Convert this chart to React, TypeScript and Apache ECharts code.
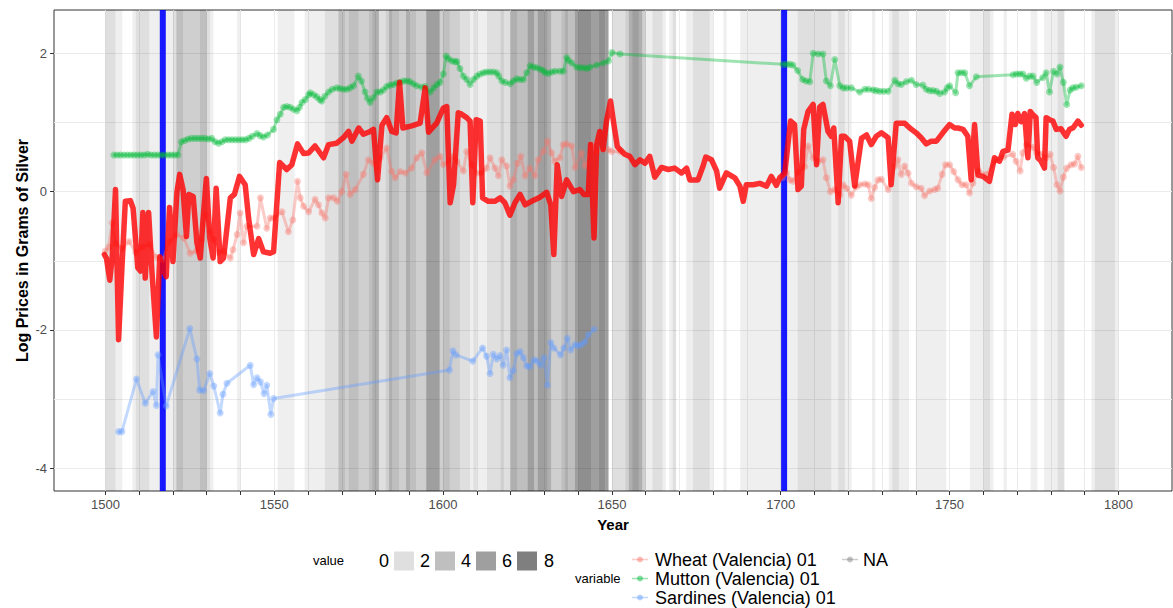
import React, { useEffect, useRef } from 'react';
import * as echarts from 'echarts';

// [startYear, endYear, value] shading bands
const bands: [number, number, number][] = [
  [1500, 1503, 2], [1503, 1505, 1], [1508, 1509, 1], [1509, 1513, 2], [1513, 1518, 1], [1518, 1520, 1],
  [1520, 1521, 2], [1521, 1523, 4], [1523, 1528, 3], [1528, 1530, 4], [1530, 1531, 2], [1531, 1532, 1],
  [1539, 1540, 1], [1551, 1556, 1], [1559, 1565, 1], [1565, 1569, 2], [1569, 1571, 4], [1571, 1572, 3],
  [1572, 1575, 4], [1575, 1578, 3], [1578, 1579, 4], [1579, 1581, 5], [1581, 1583, 2], [1583, 1584, 3],
  [1584, 1585, 5], [1585, 1587, 4], [1587, 1589, 3], [1589, 1590, 5], [1590, 1592, 4], [1592, 1595, 3],
  [1595, 1599, 6], [1599, 1600, 3], [1600, 1602, 4], [1602, 1605, 3], [1605, 1608, 2], [1608, 1609, 1],
  [1609, 1610, 2], [1610, 1613, 1], [1613, 1617, 2], [1617, 1618, 3], [1618, 1620, 2], [1620, 1622, 5],
  [1622, 1625, 4], [1625, 1627, 6], [1627, 1628, 4], [1628, 1631, 6], [1631, 1632, 5], [1632, 1635, 3],
  [1635, 1636, 4], [1636, 1637, 5], [1637, 1639, 4], [1639, 1640, 6], [1640, 1644, 7], [1644, 1646, 6],
  [1646, 1648, 7], [1648, 1649, 6], [1650, 1654, 2], [1654, 1655, 3], [1655, 1656, 5], [1656, 1658, 6],
  [1658, 1659, 5], [1659, 1660, 3], [1660, 1662, 1], [1662, 1665, 2], [1665, 1666, 1], [1667, 1668, 1],
  [1668, 1669, 2], [1672, 1674, 1], [1674, 1679, 2], [1679, 1680, 1], [1683, 1684, 1], [1688, 1705, 1],
  [1705, 1715, 2], [1715, 1717, 1], [1717, 1719, 2], [1719, 1721, 1], [1727, 1728, 1], [1732, 1733, 1],
  [1733, 1735, 2], [1735, 1738, 1], [1740, 1749, 1], [1756, 1760, 1], [1760, 1762, 2], [1762, 1763, 1],
  [1766, 1767, 1], [1774, 1776, 1], [1778, 1782, 1], [1782, 1784, 2], [1792, 1793, 1], [1793, 1799, 2],
  [1799, 1800, 1],
];

const eventYears: number[] = [1517, 1701];

const wheatEarly: [number, number][] = [
  [1500, -0.86], [1501, -0.8], [1502, -0.45], [1503, -0.75], [1505, -0.82], [1507, -0.72], [1509, -0.88],
  [1511, -0.8], [1513, -0.76], [1515, -0.95], [1517, -0.98], [1519, -0.72], [1521, -0.62], [1523.2, -0.67],
  [1525.1, -0.89], [1527, -0.86], [1528.5, -0.7], [1529.6, -0.33], [1531, -0.58], [1532, -0.69],
  [1533.5, -0.88], [1535, -0.86], [1537, -0.96], [1537.8, -0.84], [1539, -0.62], [1539.9, -0.31],
  [1540.9, -0.74], [1541.9, -0.5], [1544.9, -0.5], [1545.9, -0.09], [1547.8, -0.53], [1548.8, -0.38],
  [1549.8, -0.38], [1552.3, -0.29], [1554.2, -0.58], [1555.5, -0.41], [1556.9, 0.15], [1557.7, -0.09],
  [1558.7, -0.21], [1560.2, -0.29], [1562.1, -0.11], [1563.1, -0.19], [1564.1, -0.31], [1565.1, -0.38],
  [1566.1, -0.09], [1567.6, -0.09], [1568.7, -0.14], [1570, 0.0], [1571.3, 0.25], [1572.5, -0.04],
  [1574, 0.03], [1576.4, 0.25], [1577.9, 0.46], [1579.4, 0.41], [1580.4, 0.34], [1581.4, 0.49],
  [1583.3, 0.63], [1584.8, 0.29], [1585.8, 0.2], [1587.3, 0.29], [1588.8, 0.27], [1590.7, 0.34],
  [1592.2, 0.49], [1593.7, 0.56], [1595.2, 0.27], [1597.6, 0.46], [1599.1, 0.51], [1600.1, 0.39],
  [1601.6, 0.44], [1603.1, 0.51], [1604.1, 0.44], [1606, 0.3], [1607, 0.58], [1608.5, 0.39], [1610, 0.27],
  [1611.4, 0.27], [1612.9, 0.34], [1613.9, 0.49], [1615.4, 0.34], [1616.4, 0.23], [1617.4, 0.46],
  [1618.8, 0.37], [1619.8, 0.08], [1620.8, 0.17], [1622, 0.41], [1623, 0.51], [1624.3, 0.23],
  [1625.7, 0.34], [1627.2, 0.23], [1628.2, 0.46], [1629.7, 0.58], [1630.9, 0.73], [1632.1, 0.56],
  [1633.1, 0.44], [1634.6, 0.49], [1635.6, 0.68], [1636.6, 0.69], [1638.1, 0.66], [1639.1, 0.35],
  [1641, 0.56], [1642, 0.37], [1644, 0.68], [1645.5, 0.58], [1648.9, 0.61], [1649.9, 0.58], [1652.4, 0.58],
];

const wheatLate: [number, number][] = [
  [1700.5, 0.2], [1701.7, 0.27], [1702.7, 0.17], [1703.6, 0.15], [1705, 0.28], [1707.1, 0.36],
  [1708.1, 0.66], [1709.6, 0.49], [1711.1, 0.44], [1712.5, 0.46], [1713.5, 0.2], [1714.7, 0.0], [1716, 0.03],
  [1717.5, -0.05], [1718.5, 0.1], [1719.5, 0.05], [1720.9, -0.05], [1722.4, 0.07], [1723.4, 0.1],
  [1724.9, 0.11], [1725.9, 0.1], [1726.8, -0.1], [1727.8, 0.06], [1728.8, 0.17], [1729.8, 0.18],
  [1731.8, 0.03], [1733.7, 0.37], [1734.7, 0.46], [1735.7, 0.25], [1736.7, 0.37], [1737.7, 0.27],
  [1738.7, 0.12], [1740.1, 0.07], [1741.6, 0.05], [1742.6, -0.06], [1744.1, 0.01], [1745.6, 0.03],
  [1746.5, 0.05], [1747.8, 0.25], [1748.8, 0.39], [1750, 0.39], [1751.2, 0.29], [1752.5, 0.17],
  [1753.7, 0.1], [1754.9, 0.1], [1755.9, -0.02], [1756.9, 0.12], [1758.5, 0.3], [1761, 0.25], [1763.5, 0.45],
  [1766, 0.5], [1768.7, 0.54], [1769.7, 0.44], [1770.9, 0.3], [1771.7, 0.56], [1772.7, 0.68], [1774.7, 0.64],
  [1775.8, 0.56], [1777.1, 0.54], [1778.6, 0.49], [1779.8, 0.54], [1780.8, 0.35], [1781.8, 0.1],
  [1782.7, 0.01], [1783.7, 0.21], [1784.7, 0.34], [1786, 0.39], [1787, 0.4], [1788, 0.51], [1789, 0.35],
];

const mutton: [number, number][] = [
  [1502.5, 0.53], [1503.5, 0.53], [1504.5, 0.53], [1505.5, 0.53], [1506.5, 0.53], [1507.5, 0.53],
  [1508.5, 0.53], [1509.5, 0.53], [1510.5, 0.53], [1511.5, 0.53], [1512.5, 0.54], [1513.5, 0.53],
  [1514.5, 0.53], [1515.5, 0.53], [1516.5, 0.53], [1517.5, 0.53], [1518.5, 0.53], [1519.5, 0.53],
  [1520.5, 0.53], [1521.5, 0.53], [1522.5, 0.72], [1523.5, 0.74], [1524.5, 0.76], [1525.5, 0.77],
  [1526.5, 0.77], [1527.5, 0.77], [1528.5, 0.77], [1529.5, 0.77], [1530.5, 0.76], [1531.5, 0.77],
  [1532.5, 0.72], [1533.5, 0.7], [1534.5, 0.72], [1535.5, 0.75], [1536.5, 0.75], [1537.5, 0.75],
  [1538.5, 0.75], [1539.5, 0.75], [1540.5, 0.75], [1541.5, 0.75], [1542.5, 0.77], [1543.5, 0.8],
  [1544.9, 0.84], [1545.8, 0.81], [1546.8, 0.79], [1548, 0.82], [1549.8, 0.9], [1550.8, 1.04],
  [1551.8, 1.12], [1552.8, 1.22], [1553.7, 1.23], [1554.7, 1.22], [1555.7, 1.19], [1556.7, 1.17],
  [1557.5, 1.22], [1558.2, 1.29], [1559.2, 1.33], [1560.2, 1.4], [1560.7, 1.43], [1561.7, 1.4],
  [1562.6, 1.37], [1563.5, 1.33], [1564.1, 1.31], [1565, 1.38], [1566.1, 1.44], [1567.2, 1.48],
  [1568.5, 1.5], [1569.5, 1.49], [1570.5, 1.48], [1571.5, 1.48], [1572.5, 1.5], [1573.5, 1.53],
  [1574.9, 1.67], [1575.8, 1.6], [1576.9, 1.44], [1577.6, 1.35], [1578.4, 1.29], [1579.4, 1.36],
  [1580.4, 1.44], [1581.4, 1.44], [1582.3, 1.47], [1583.3, 1.52], [1584.3, 1.54], [1585.3, 1.55],
  [1586.3, 1.57], [1587.3, 1.58], [1588.3, 1.6], [1589.3, 1.6], [1590.2, 1.59], [1591.2, 1.56],
  [1592.2, 1.53], [1593.7, 1.51], [1594.7, 1.52], [1596.2, 1.44], [1597.2, 1.5], [1598.2, 1.55],
  [1599.1, 1.58], [1600.1, 1.7], [1600.9, 1.96], [1601.6, 1.92], [1602.6, 1.89], [1603.5, 1.88],
  [1604.1, 1.88], [1605, 1.78], [1606, 1.67], [1607, 1.62], [1608, 1.55], [1609, 1.62], [1610, 1.67],
  [1611, 1.7], [1612, 1.72], [1612.9, 1.73], [1613.9, 1.73], [1614.9, 1.73], [1615.9, 1.72], [1616.5, 1.67],
  [1617.4, 1.6], [1618.4, 1.58], [1619.9, 1.56], [1620.8, 1.6], [1621.8, 1.63], [1622.8, 1.62],
  [1623.8, 1.62], [1624.8, 1.72], [1625.8, 1.82], [1626.8, 1.8], [1627.8, 1.79], [1628.8, 1.77],
  [1629.7, 1.75], [1630.2, 1.72], [1631.2, 1.71], [1632.2, 1.73], [1633.2, 1.74], [1634.6, 1.74],
  [1635.6, 1.74], [1636.6, 1.94], [1637.1, 1.9], [1638.1, 1.86], [1639.6, 1.8], [1640.6, 1.79],
  [1641.6, 1.79], [1642.6, 1.78], [1643.5, 1.8], [1645.5, 1.83], [1647.5, 1.86], [1649, 1.89], [1650, 2.01],
  [1652.4, 1.99], [1700.7, 1.84], [1701.7, 1.84], [1702.7, 1.84], [1703.6, 1.83], [1705, 1.75],
  [1706.5, 1.62], [1707.5, 1.6], [1708.6, 1.59], [1709.6, 2.0], [1711.1, 1.99], [1712.5, 1.99],
  [1713.5, 1.6], [1714.7, 1.53], [1716, 1.91], [1717.5, 1.53], [1718.5, 1.5], [1719.5, 1.5], [1720.9, 1.5],
  [1723.4, 1.44], [1724.9, 1.48], [1726, 1.48], [1727.4, 1.47], [1728.3, 1.46], [1729.3, 1.45],
  [1730.5, 1.45], [1731.8, 1.45], [1733.8, 1.61], [1734.7, 1.56], [1735.7, 1.55], [1737.2, 1.59],
  [1738.7, 1.61], [1740.1, 1.55], [1742.1, 1.54], [1743.1, 1.48], [1744.1, 1.46], [1745.1, 1.46],
  [1746.1, 1.45], [1747.1, 1.42], [1748.5, 1.44], [1749.3, 1.5], [1750, 1.53], [1751.8, 1.43],
  [1752.5, 1.72], [1753.5, 1.72], [1754.5, 1.72], [1755.9, 1.53], [1757.9, 1.66], [1768.8, 1.69],
  [1769.8, 1.7], [1770.8, 1.7], [1771.7, 1.7], [1772.7, 1.64], [1773.7, 1.67], [1774.7, 1.67],
  [1775.8, 1.58], [1777.6, 1.65], [1778.6, 1.72], [1779.6, 1.44], [1780.8, 1.74], [1781.8, 1.7],
  [1782.7, 1.8], [1783.7, 1.58], [1784.7, 1.26], [1785.7, 1.47], [1786.5, 1.5], [1787.5, 1.51], [1789, 1.53],
];

const sardines: [number, number][] = [
  [1503.9, -3.47], [1504.9, -3.47], [1509.2, -2.71], [1511.8, -3.06], [1514.1, -2.89], [1515.1, -3.09],
  [1515.6, -2.36], [1518, -3.1], [1525, -1.98], [1527.1, -2.42], [1527.9, -2.87], [1529.1, -2.88],
  [1530.9, -2.63], [1532.1, -2.81], [1534, -3.2], [1534.8, -2.93], [1536, -2.77], [1542.9, -2.51],
  [1543.9, -2.79], [1544.9, -2.69], [1545.9, -2.75], [1547, -2.92], [1547.8, -2.8], [1549, -3.22],
  [1549.8, -2.99], [1601.9, -2.58], [1602.9, -2.3], [1603.8, -2.36], [1608.8, -2.45], [1611.7, -2.26],
  [1612.9, -2.38], [1613.9, -2.63], [1614.9, -2.35], [1615.9, -2.42], [1616.9, -2.37], [1617.8, -2.51],
  [1618.8, -2.29], [1619.8, -2.69], [1620.8, -2.59], [1621.8, -2.34], [1622.8, -2.31], [1623.8, -2.4],
  [1624.8, -2.52], [1625.7, -2.53], [1626.9, -2.43], [1627.9, -2.45], [1628.9, -2.51], [1629.9, -2.4],
  [1630.9, -2.8], [1631.9, -2.18], [1632.8, -2.26], [1634.8, -2.36], [1635.8, -2.26], [1636.8, -2.12],
  [1637.8, -2.29], [1639.1, -2.21], [1640, -2.23], [1641, -2.21], [1642, -2.17], [1643, -2.07], [1644.7, -1.99],
];

const boldRed: [number, number][] = [
  [1499.7, -0.91], [1500.3, -0.96], [1501.3, -1.28], [1502, -0.96], [1503, 0.03], [1503.9, -2.14],
  [1504.9, -1.1], [1505.9, -0.14], [1507.4, -0.13], [1508.2, -0.24], [1509.6, -1.1], [1510.4, -1.15],
  [1511.1, -0.3], [1511.8, -1.25], [1512.8, -0.3], [1513.8, -1.17], [1515.1, -2.1], [1516.1, -0.94],
  [1517.3, -1.15], [1518, -1.23], [1519, -0.23], [1520, -1.01], [1521.2, 0.0], [1522, 0.25], [1523, 0.03],
  [1524, -0.65], [1524.7, -0.04], [1526, -0.07], [1527.1, -0.74], [1528.1, -0.96], [1529.1, -0.29],
  [1529.9, 0.19], [1530.9, -0.67], [1531.9, -0.96], [1532.8, 0.05], [1534, -1.01], [1535, -0.96],
  [1537, -0.09], [1538.2, -0.04], [1539.7, 0.22], [1541.4, 0.1], [1542.4, -0.38], [1543.9, -0.91],
  [1545.4, -0.68], [1546.8, -0.87], [1548.8, -0.89], [1549.8, -0.87], [1551.6, 0.42], [1553.7, 0.32],
  [1555.2, 0.39], [1556.9, 0.69], [1558.7, 0.55], [1560.2, 0.56], [1562.1, 0.66], [1564.6, 0.49],
  [1566.1, 0.68], [1568.5, 0.7], [1570.5, 0.78], [1572, 0.87], [1573, 0.73], [1575, 0.92], [1576.4, 0.83],
  [1578.4, 0.87], [1579.4, 0.9], [1580.6, 0.17], [1581.9, 0.96], [1583.3, 1.07], [1584.8, 0.87],
  [1586.1, 0.85], [1587.1, 1.58], [1588.1, 0.92], [1590.7, 0.95], [1593.2, 0.99], [1594.7, 1.5],
  [1595.7, 0.86], [1598.1, 0.99], [1600.1, 1.21], [1601.1, 1.23], [1602.1, -0.16], [1603.1, 0.1],
  [1604.5, 1.14], [1605.5, 1.12], [1607, 1.07], [1608, 1.02], [1608.8, -0.16], [1609.8, 1.04], [1611, 1.02],
  [1611.7, -0.09], [1613.4, -0.14], [1615.4, -0.14], [1616.9, -0.09], [1618.3, -0.16], [1619.8, -0.34],
  [1621.3, -0.16], [1622.8, -0.04], [1624.3, -0.19], [1626.2, -0.14], [1628.7, -0.08], [1630.7, -0.01],
  [1631.9, -0.19], [1632.8, -0.91], [1633.8, 0.39], [1635.1, -0.07], [1636.6, 0.17], [1638.6, 0.0],
  [1640.5, 0.03], [1641.7, -0.04], [1643, -0.04], [1643.7, 0.68], [1644.7, -0.67], [1645.5, 0.68],
  [1646.4, 0.87], [1647.4, 0.61], [1648.4, 1.02], [1649.6, 1.31], [1650.6, 0.97], [1651.6, 0.65],
  [1653.8, 0.54], [1655.3, 0.51], [1656.8, 0.39], [1658.3, 0.46], [1659.8, 0.41], [1661.2, 0.51],
  [1662.7, 0.21], [1664.7, 0.35], [1666.7, 0.32], [1668.6, 0.34], [1670.6, 0.27], [1672.1, 0.34],
  [1673.1, 0.17], [1675.5, 0.17], [1677, 0.37], [1677.8, 0.5], [1679.5, 0.46], [1681, 0.3], [1681.9, 0.05],
  [1683.9, 0.27], [1686.4, 0.2], [1687.9, 0.08], [1688.9, -0.14], [1689.8, 0.1], [1691.8, 0.1],
  [1693.8, 0.12], [1695.8, 0.08], [1697.2, 0.22], [1698.7, 0.09], [1699.7, 0.2], [1701.2, 0.27],
  [1702.9, 1.02], [1704.1, 0.97], [1705.1, 0.03], [1706.1, 0.08], [1706.8, 0.9], [1708.1, 1.16],
  [1709.6, 1.26], [1710.6, 0.39], [1711.5, 1.22], [1712.5, 1.26], [1714, 0.87], [1715, 0.8], [1715.7, 0.92],
  [1717, -0.16], [1718, 0.8], [1718.9, 0.8], [1720.4, 0.73], [1721.9, 0.08], [1723.9, 0.77], [1725.4, 0.82],
  [1726.8, 0.68], [1728.3, 0.8], [1729.8, 0.85], [1731.8, 0.78], [1732.7, 0.1], [1734.2, 0.99],
  [1736.7, 0.99], [1738.2, 0.92], [1740.1, 0.85], [1741.6, 0.78], [1743.1, 0.69], [1744.6, 0.73],
  [1746.1, 0.73], [1748, 0.85], [1750, 0.97], [1751.5, 0.92], [1752.5, 0.92], [1754, 0.9], [1755.4, 0.8],
  [1756.4, 0.17], [1757.4, 0.97], [1758.4, 0.24], [1759.9, 0.22], [1761.8, 0.15], [1763.3, 0.49],
  [1764.8, 0.44], [1765.8, 0.58], [1767.3, 0.6], [1768.5, 1.12], [1769.5, 0.97], [1770.2, 1.13],
  [1771.2, 1.01], [1772.2, 1.13], [1773.2, 0.49], [1773.9, 1.16], [1774.7, 1.11], [1775.6, 1.07],
  [1776.1, 0.49], [1777.1, 0.44], [1778.1, 0.34], [1778.6, 1.07], [1779.6, 1.04], [1780.6, 1.02],
  [1781.6, 0.9], [1783, 0.91], [1784.5, 0.8], [1785.5, 0.9], [1786.5, 0.92], [1788, 1.02], [1789, 0.96],
];

const xTickValues = [
  1500, 1510, 1520, 1530, 1540, 1550, 1560, 1570, 1580, 1590, 1600, 1610, 1620, 1630, 1640, 1650,
  1660, 1670, 1680, 1690, 1700, 1710, 1720, 1730, 1740, 1750, 1760, 1770, 1780, 1790, 1800,
];
const xLabelValues = [1500, 1550, 1600, 1650, 1700, 1750, 1800];
const yGridValues = [-4, -3, -2, -1, 0, 1, 2];
const yLabelValues = [-4, -2, 0, 2];
const legendValues = [0, 2, 4, 6, 8];
const variableNames = ['Wheat (Valencia) 01', 'Mutton (Valencia) 01', 'Sardines (Valencia) 01'];

const FONT = "'Liberation Sans', Arial, Helvetica, sans-serif";
const X_MIN = 1484.78;
const X_MAX = 1815.87;
const Y_MIN = -4.328;
const Y_MAX = 2.626;

const WHEAT = '248,118,109';
const MUTTON = '0,186,56';
const SARD = '97,156,255';
const NA_C = '127,127,127';
const A = 0.38;

function pointSeries(name: string, data: [number, number][], rgb: string) {
  return {
    name,
    type: 'line',
    data,
    showSymbol: true,
    symbol: 'circle',
    symbolSize: 7,
    lineStyle: { color: `rgba(${rgb},${A})`, width: 3, join: 'round', cap: 'round' },
    itemStyle: { color: `rgba(${rgb},${A})`, borderWidth: 0 },
    z: 3,
    silent: true,
  };
}

export default function App() {
  const ref = useRef<HTMLDivElement>(null);
  useEffect(() => {
    if (!ref.current) return;
    const chart = echarts.init(ref.current, undefined, { renderer: 'svg' });

    const graphics: any[] = [];
    // value legend
    graphics.push({
      type: 'text', x: 313, y: 560,
      style: { text: 'value', font: `13px ${FONT}`, fill: '#000', verticalAlign: 'middle' },
    });
    const numX = [379, 420, 461, 502, 544];
    legendValues.forEach((v, i) => {
      graphics.push({
        type: 'text', x: numX[i], y: 561,
        style: { text: String(v), font: `18px ${FONT}`, fill: '#000', verticalAlign: 'middle' },
      });
      if (i > 0) {
        graphics.push({
          type: 'rect', shape: { x: numX[i - 1] + 15, y: 551.5, width: 20, height: 19 },
          style: { fill: `rgba(0,0,0,${v / 16})` },
        });
      }
    });
    // variable legend
    graphics.push({
      type: 'text', x: 575, y: 578.5,
      style: { text: 'variable', font: `13px ${FONT}`, fill: '#000', verticalAlign: 'middle' },
    });
    const keyColors = [WHEAT, MUTTON, SARD];
    const rowY = [559.5, 578.5, 597.5];
    variableNames.forEach((nm, i) => {
      graphics.push({
        type: 'line', shape: { x1: 632, y1: rowY[i], x2: 648, y2: rowY[i] },
        style: { stroke: `rgba(${keyColors[i]},${A})`, lineWidth: 1.5 },
      });
      graphics.push({
        type: 'circle', shape: { cx: 640, cy: rowY[i], r: 3 },
        style: { fill: `rgba(${keyColors[i]},${A + 0.1})` },
      });
      graphics.push({
        type: 'text', x: 655, y: rowY[i],
        style: { text: nm, font: `18px ${FONT}`, fill: '#000', verticalAlign: 'middle' },
      });
    });
    graphics.push({
      type: 'line', shape: { x1: 842, y1: 559.5, x2: 858, y2: 559.5 },
      style: { stroke: `rgba(${NA_C},${A})`, lineWidth: 1.5 },
    });
    graphics.push({
      type: 'circle', shape: { cx: 850, cy: 559.5, r: 3 },
      style: { fill: `rgba(${NA_C},${A + 0.1})` },
    });
    graphics.push({
      type: 'text', x: 863, y: 559.5,
      style: { text: 'NA', font: `18px ${FONT}`, fill: '#000', verticalAlign: 'middle' },
    });

    const option: any = {
      animation: false,
      backgroundColor: '#fff',
      textStyle: { fontFamily: FONT },
      grid: {
        left: 54, top: 10, width: 1118, height: 481,
        show: true, borderColor: '#333', borderWidth: 1, backgroundColor: 'transparent',
        containLabel: false,
      },
      xAxis: [{
        type: 'value', min: X_MIN, max: X_MAX, position: 'bottom',
        axisLine: { show: false, onZero: false },
        axisTick: { show: true, length: 4, lineStyle: { color: '#333' }, customValues: xTickValues },
        axisLabel: {
          customValues: xLabelValues, color: '#4d4d4d', fontSize: 13, margin: 7, fontFamily: FONT,
          formatter: (v: number) => (xLabelValues.indexOf(v) >= 0 ? String(v) : ''),
        },
        splitLine: { show: true, lineStyle: { color: '#ebebeb', width: 1 } },
        name: 'Year', nameLocation: 'middle', nameGap: 26,
        nameTextStyle: { fontWeight: 'bold', fontSize: 15, color: '#000', fontFamily: FONT },
      }],
      yAxis: [
        {
          type: 'value', min: Y_MIN, max: Y_MAX, position: 'left',
          axisLine: { show: false, onZero: false },
          axisTick: { show: false, customValues: yGridValues },
          axisLabel: { show: false },
          splitLine: { show: true, lineStyle: { color: '#ebebeb', width: 1 } },
        },
        {
          type: 'value', min: Y_MIN, max: Y_MAX, position: 'left', offset: 0,
          axisLine: { show: false, onZero: false },
          axisTick: { show: true, length: 4, lineStyle: { color: '#333' }, customValues: yLabelValues },
          axisLabel: {
            customValues: yLabelValues, color: '#4d4d4d', fontSize: 13, margin: 7, fontFamily: FONT,
            formatter: (v: number) => (yLabelValues.indexOf(v) >= 0 ? String(v) : ''),
          },
          splitLine: { show: false },
          name: 'Log Prices in Grams of Silver', nameLocation: 'middle', nameGap: 24, nameRotate: 90,
          nameMoveOverlap: false,
          nameTextStyle: { fontWeight: 'bold', fontSize: 16, color: '#000', fontFamily: FONT },
        },
      ],
      series: [
        {
          name: 'bands', type: 'custom', data: bands, clip: true, silent: true, z: 1,
          encode: { x: [0, 1] },
          renderItem: (params: any, api: any) => {
            const x0 = api.coord([api.value(0), 0])[0];
            const x1 = api.coord([api.value(1), 0])[0];
            const cs = params.coordSys;
            return {
              type: 'rect',
              shape: { x: x0, y: cs.y, width: x1 - x0, height: cs.height },
              style: { fill: `rgba(0,0,0,${api.value(2) / 16})` },
            };
          },
        },
        {
          name: 'events', type: 'custom', data: eventYears.map((y) => [y]), clip: true, silent: true, z: 2,
          encode: { x: 0 },
          renderItem: (params: any, api: any) => {
            const x = api.coord([api.value(0), 0])[0];
            const cs = params.coordSys;
            return {
              type: 'rect',
              shape: { x: x - 3, y: cs.y, width: 6, height: cs.height },
              style: { fill: 'rgba(0,0,255,0.9)' },
            };
          },
        },
        pointSeries('Wheat (Valencia) 01', wheatEarly, WHEAT),
        pointSeries('Wheat (Valencia) 01 late', wheatLate, WHEAT),
        pointSeries('Mutton (Valencia) 01', mutton, MUTTON),
        pointSeries('Sardines (Valencia) 01', sardines, SARD),
        {
          name: 'bold', type: 'line', data: boldRed, showSymbol: false, symbol: 'none', z: 4, silent: true,
          lineStyle: { color: 'rgba(255,0,0,0.8)', width: 5.5, join: 'round', cap: 'round' },
        },
      ],
      graphic: graphics,
    };
    chart.setOption(option);
    return () => chart.dispose();
  }, []);
  return <div ref={ref} style={{ position: 'fixed', left: 0, top: 0, width: 1173, height: 608 }} />;
}
